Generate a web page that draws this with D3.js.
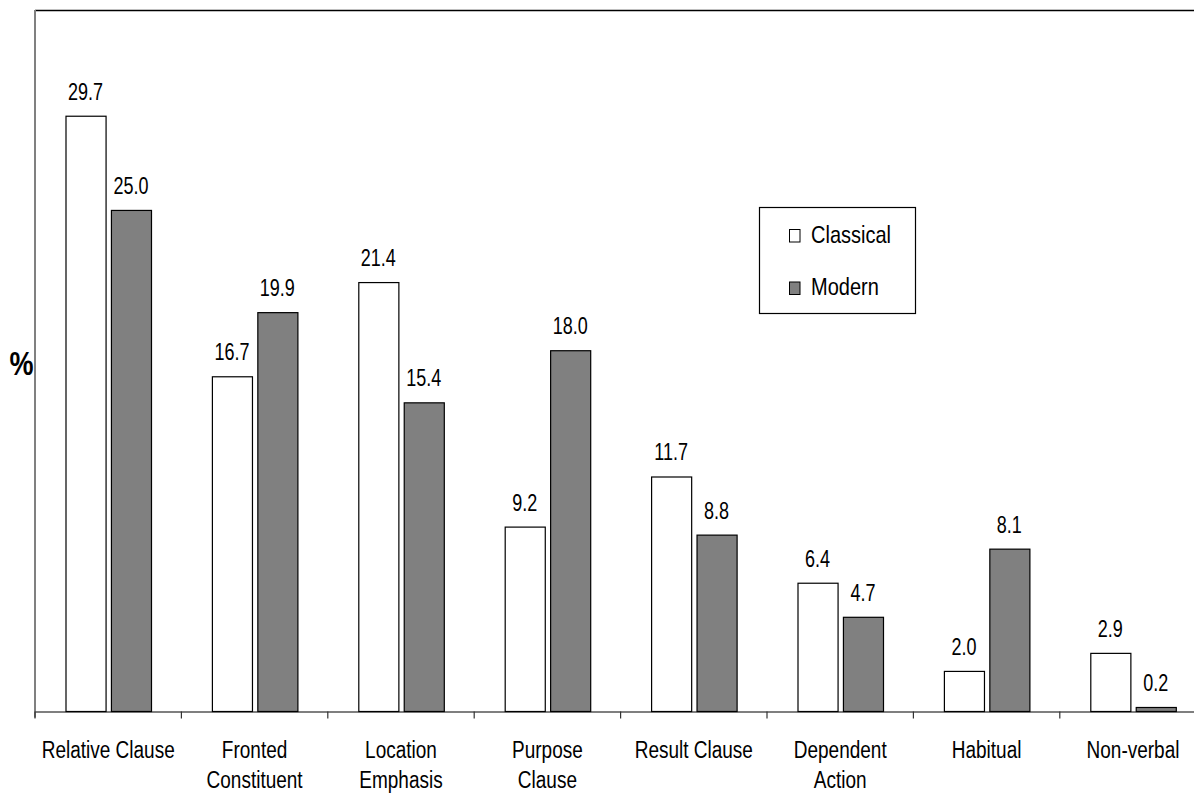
<!DOCTYPE html>
<html>
<head>
<meta charset="utf-8">
<script src="https://cdn.jsdelivr.net/npm/d3@7"></script>
<style>
  html, body { margin: 0; padding: 0; background: #fff; }
  svg { display: block; }
  text { font-family: "Liberation Sans", Arial, sans-serif; fill: #000; }
</style>
</head>
<body>
<svg id="chart" width="1194" height="793"></svg>
<script>
// Clause types (two-line labels split on "\n")
const categories = [
  "Relative Clause", "Fronted\nConstituent", "Location\nEmphasis", "Purpose\nClause",
  "Result Clause", "Dependent\nAction", "Habitual", "Non-verbal"
];
const seriesNames = ["Classical", "Modern"];
const classical = [29.7, 16.7, 21.4, 9.2, 11.7, 6.4, 2.0, 2.9];
const modern    = [25.0, 19.9, 15.4, 18.0, 8.8, 4.7, 8.1, 0.2];
const yDomain = [0, 35];

const colors = { Classical: "#ffffff", Modern: "#808080" };

const svg = d3.select("#chart");

const plotLeft = 35, plotTop = 10, plotBottom = 711.5;
const step = 146.4;
const plotRight = plotLeft + step * categories.length;

const x0 = d3.scaleBand().domain(categories).range([plotLeft, plotRight]).padding(0);
const x1 = d3.scaleBand().domain(seriesNames).range([30.5, 116]).paddingInner(0.118).paddingOuter(0);
const y = d3.scaleLinear().domain(yDomain).range([plotBottom, plotTop]);

const rows = categories.map((c, i) => ({ cat: c, Classical: classical[i], Modern: modern[i] }));

// frame: top border and left axis
svg.append("line").attr("x1", plotLeft).attr("x2", 1194).attr("y1", plotTop + 0.5).attr("y2", plotTop + 0.5)
  .attr("stroke", "#000").attr("stroke-width", 1.5);
svg.append("line").attr("x1", plotLeft).attr("x2", plotLeft).attr("y1", plotTop).attr("y2", plotBottom + 6)
  .attr("stroke", "#808080").attr("stroke-width", 2);

// bars
const groups = svg.append("g").selectAll("g").data(rows).join("g")
  .attr("transform", d => `translate(${x0(d.cat)},0)`);

groups.selectAll("rect").data(d => seriesNames.map(s => ({ s, v: d[s] }))).join("rect")
  .attr("x", d => x1(d.s) + 0.5)
  .attr("y", d => y(d.v))
  .attr("width", x1.bandwidth())
  .attr("height", d => y(0) - y(d.v))
  .attr("fill", d => colors[d.s])
  .attr("stroke", "#000")
  .attr("stroke-width", 1.2);

// value labels above bars
groups.selectAll("text.val").data(d => seriesNames.map(s => ({ s, v: d[s] }))).join("text")
  .attr("class", "val")
  .attr("text-anchor", "middle")
  .attr("font-size", 18)
  .attr("transform", d => `translate(${x1(d.s) + x1.bandwidth() / 2},${y(d.v) - 16.5}) scale(1,1.3)`)
  .text(d => d.v.toFixed(1));

// x axis
const xAxis = d3.axisBottom(x0).tickSize(0).tickFormat("");
const gx = svg.append("g").attr("transform", `translate(0,${plotBottom})`).call(xAxis);
gx.select(".domain").attr("stroke", "#000").attr("stroke-width", 1.2);
gx.selectAll(".tick").remove();

// category separators below the axis
const seps = d3.range(categories.length + 1).map(i => plotLeft + i * step);
svg.append("g").selectAll("line").data(seps).join("line")
  .attr("x1", d => d).attr("x2", d => d)
  .attr("y1", plotBottom).attr("y2", plotBottom + 7)
  .attr("stroke", "#333").attr("stroke-width", 1.2);

// category labels
svg.append("g").selectAll("text").data(categories).join("text")
  .attr("text-anchor", "middle")
  .attr("font-size", 19)
  .attr("transform", d => `translate(${x0(d) + step / 2},757.5) scale(1,1.22)`)
  .selectAll("tspan").data(d => d.split("\n")).join("tspan")
  .attr("x", 0)
  .attr("dy", (d, i) => i === 0 ? 0 : 25)
  .text(d => d);

// y axis title
svg.append("text")
  .attr("font-size", 27)
  .attr("font-weight", "bold")
  .attr("text-anchor", "middle")
  .attr("transform", `translate(21.5,375) scale(1,1.25)`)
  .text("%");

// legend
const lg = svg.append("g");
lg.append("rect").attr("x", 759.5).attr("y", 207.5).attr("width", 156).attr("height", 106)
  .attr("fill", "#fff").attr("stroke", "#000").attr("stroke-width", 1.2);
const items = lg.selectAll("g.item").data(seriesNames).join("g").attr("class", "item")
  .attr("transform", (d, i) => `translate(0,${i * 52.5})`);
items.append("rect").attr("x", 789.5).attr("y", 229.5).attr("width", 10.5).attr("height", 12.5)
  .attr("fill", d => colors[d]).attr("stroke", "#000").attr("stroke-width", 1);
items.append("text").attr("font-size", 20)
  .attr("transform", `translate(811,242.5) scale(1,1.22)`)
  .text(d => d);
</script>
</body>
</html>
